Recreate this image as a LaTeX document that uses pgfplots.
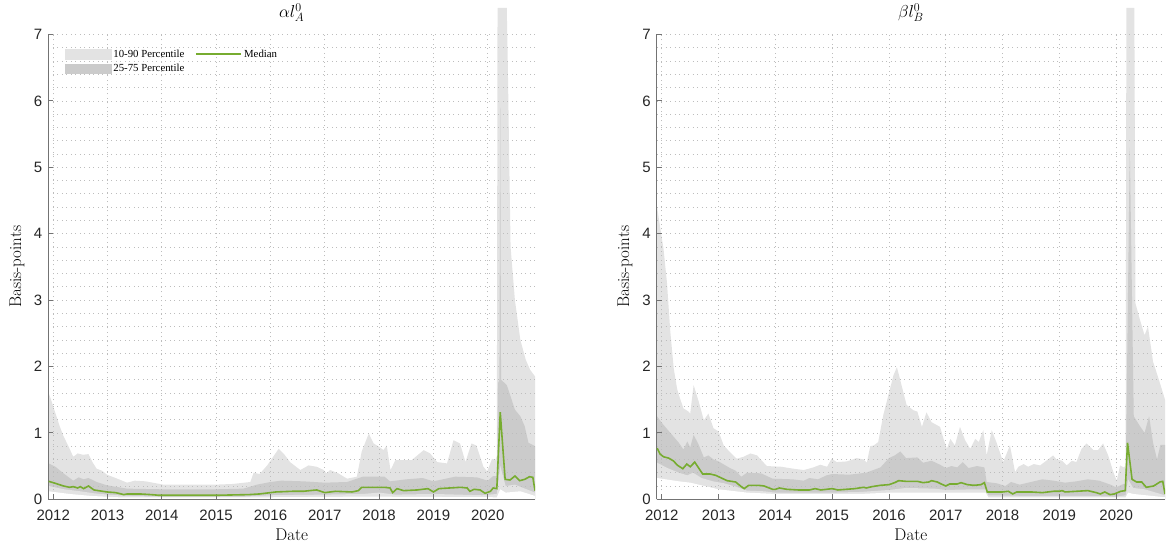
\documentclass[border=0pt]{standalone}
\usepackage{pgfplots}
\pgfplotsset{compat=1.18}
\usepackage{fontspec}
\newfontfamily\arialf{Liberation Sans}
\newfontfamily\tnrf{Liberation Serif}
\definecolor{medgreen}{rgb}{0.466,0.674,0.188}
\definecolor{gridc}{gray}{0.74}
\definecolor{axc}{gray}{0.45}
\definecolor{lightband}{gray}{0.89}
\definecolor{darkband}{gray}{0.795}

% ---------- data: plot A ----------
\pgfplotstableread{
t p
2011.917 1.60
2011.96 1.50
2012.04 1.30
2012.12 1.10
2012.19 0.95
2012.28 0.80
2012.37 0.64
2012.45 0.69
2012.55 0.67
2012.65 0.68
2012.73 0.55
2012.80 0.46
2012.90 0.43
2012.99 0.37
2013.15 0.32
2013.36 0.25
2013.50 0.28
2013.70 0.27
2014.03 0.22
2014.50 0.22
2014.98 0.22
2015.30 0.23
2015.63 0.26
2015.69 0.40
2015.80 0.38
2015.94 0.51
2016.05 0.64
2016.15 0.76
2016.25 0.68
2016.36 0.56
2016.55 0.44
2016.70 0.51
2016.85 0.49
2016.98 0.44
2017.03 0.39
2017.10 0.44
2017.25 0.39
2017.41 0.31
2017.59 0.34
2017.68 0.72
2017.81 0.99
2017.90 0.84
2018.00 0.79
2018.08 0.74
2018.14 0.81
2018.21 0.44
2018.30 0.59
2018.60 0.59
2018.82 0.74
2018.94 0.69
2019.07 0.56
2019.25 0.54
2019.37 0.89
2019.49 0.84
2019.59 0.56
2019.70 0.84
2019.79 0.81
2019.92 0.49
2019.99 0.42
2020.08 0.61
2020.14 0.59
2020.167 0.65
2020.18 7.4
2020.35 7.4
2020.37 6.5
2020.42 3.80
2020.50 3.00
2020.60 2.40
2020.70 2.10
2020.78 1.95
2020.87 1.85
}\Aninety
\pgfplotstableread{
t p
2011.917 0.54
2012.04 0.49
2012.19 0.39
2012.37 0.28
2012.47 0.33
2012.56 0.30
2012.65 0.32
2012.80 0.26
2012.99 0.21
2013.36 0.16
2014.00 0.15
2015.00 0.15
2015.50 0.16
2015.75 0.22
2016.00 0.26
2016.20 0.28
2016.60 0.27
2017.00 0.25
2017.41 0.26
2017.70 0.34
2018.10 0.34
2018.20 0.27
2018.50 0.30
2018.80 0.32
2019.00 0.27
2019.40 0.34
2019.80 0.33
2020.00 0.28
2020.10 0.35
2020.167 0.35
2020.19 1.75
2020.215 1.80
2020.23 5.90
2020.245 1.80
2020.35 1.72
2020.42 1.55
2020.50 1.35
2020.60 1.25
2020.68 1.10
2020.75 0.85
2020.87 0.80
}\Aseventyfive
\pgfplotstableread{
t p
2011.917 0.27
2012.04 0.24
2012.19 0.20
2012.30 0.18
2012.37 0.19
2012.45 0.17
2012.50 0.19
2012.56 0.16
2012.65 0.20
2012.75 0.14
2012.99 0.11
2013.15 0.10
2013.30 0.07
2013.36 0.08
2013.60 0.08
2013.80 0.07
2013.95 0.06
2014.30 0.06
2015.00 0.06
2015.60 0.07
2015.80 0.08
2016.10 0.11
2016.40 0.12
2016.60 0.12
2016.85 0.14
2017.00 0.10
2017.20 0.12
2017.50 0.11
2017.62 0.13
2017.68 0.18
2017.90 0.18
2018.10 0.18
2018.20 0.17
2018.25 0.10
2018.33 0.16
2018.45 0.13
2018.70 0.14
2018.90 0.16
2019.00 0.11
2019.10 0.16
2019.50 0.18
2019.62 0.17
2019.67 0.12
2019.75 0.15
2019.86 0.14
2019.95 0.09
2020.05 0.12
2020.10 0.17
2020.167 0.16
2020.23 1.31
2020.32 0.30
2020.41 0.29
2020.50 0.35
2020.59 0.28
2020.68 0.30
2020.77 0.34
2020.83 0.33
2020.87 0.13
}\Afifty
\pgfplotstableread{
t p
2011.917 0.20
2012.20 0.15
2012.50 0.12
2012.75 0.09
2013.00 0.07
2013.40 0.05
2014.00 0.04
2015.50 0.04
2016.00 0.06
2017.00 0.07
2017.70 0.08
2018.00 0.10
2018.30 0.07
2019.00 0.08
2019.90 0.06
2020.167 0.08
2020.23 0.50
2020.33 0.20
2020.50 0.22
2020.87 0.10
}\Atwentyfive
\pgfplotstableread{
t p
2011.917 0.12
2012.30 0.08
2012.70 0.05
2013.20 0.03
2016.00 0.03
2017.70 0.04
2020.167 0.03
2020.23 0.15
2020.33 0.10
2020.60 0.12
2020.87 0.05
}\Aten

% ---------- data: plot B ----------
\pgfplotstableread{
t p
2011.917 4.40
2011.97 4.10
2012.03 3.77
2012.09 3.27
2012.15 2.52
2012.21 1.97
2012.27 1.66
2012.32 1.52
2012.38 1.37
2012.47 1.32
2012.50 1.29
2012.56 1.72
2012.65 1.47
2012.74 1.19
2012.82 1.29
2012.91 1.07
2013.00 1.02
2013.09 0.81
2013.20 0.71
2013.32 0.61
2013.44 0.64
2013.56 0.69
2013.68 0.66
2013.74 0.60
2013.85 0.50
2014.10 0.49
2014.32 0.46
2014.50 0.44
2014.67 0.48
2014.79 0.52
2014.91 0.49
2014.99 0.61
2015.08 0.56
2015.26 0.57
2015.43 0.62
2015.55 0.60
2015.61 0.55
2015.67 0.80
2015.73 0.81
2015.81 0.86
2015.90 1.27
2015.99 1.57
2016.08 1.87
2016.14 1.99
2016.25 1.62
2016.31 1.42
2016.43 1.34
2016.50 1.32
2016.58 1.09
2016.66 1.31
2016.75 1.16
2016.90 1.09
2016.96 0.91
2017.02 0.76
2017.08 0.91
2017.16 0.81
2017.25 1.09
2017.34 0.89
2017.43 0.76
2017.52 0.91
2017.58 0.86
2017.66 1.04
2017.72 0.66
2017.81 1.04
2017.90 0.84
2018.01 0.56
2018.13 0.81
2018.22 0.41
2018.28 0.49
2018.37 0.53
2018.45 0.49
2018.55 0.53
2018.66 0.51
2018.77 0.58
2018.89 0.66
2018.95 0.60
2019.05 0.58
2019.13 0.51
2019.22 0.58
2019.30 0.56
2019.39 0.76
2019.48 0.84
2019.60 0.74
2019.68 0.74
2019.77 0.84
2019.86 0.66
2019.95 0.41
2020.01 0.28
2020.07 0.51
2020.13 0.48
2020.167 0.50
2020.18 7.4
2020.32 7.4
2020.34 2.95
2020.42 2.70
2020.50 2.47
2020.56 2.60
2020.65 2.07
2020.70 1.94
2020.80 1.67
2020.86 1.50
}\Bninety
\pgfplotstableread{
t p
2011.917 1.25
2012.00 1.15
2012.10 1.05
2012.20 0.95
2012.30 0.85
2012.38 0.75
2012.45 0.87
2012.50 0.78
2012.56 0.97
2012.65 0.82
2012.74 0.63
2012.82 0.66
2012.91 0.60
2013.00 0.57
2013.10 0.52
2013.20 0.47
2013.30 0.43
2013.40 0.34
2013.50 0.40
2013.75 0.39
2013.95 0.31
2014.30 0.30
2014.50 0.28
2014.60 0.32
2014.75 0.30
2014.90 0.36
2015.00 0.38
2015.30 0.37
2015.60 0.40
2015.85 0.48
2016.00 0.62
2016.10 0.66
2016.20 0.72
2016.30 0.62
2016.50 0.63
2016.60 0.55
2016.75 0.58
2016.90 0.52
2017.00 0.47
2017.10 0.50
2017.20 0.48
2017.30 0.56
2017.40 0.47
2017.55 0.50
2017.68 0.48
2017.72 0.26
2017.90 0.24
2018.05 0.20
2018.15 0.26
2018.30 0.22
2018.50 0.26
2018.70 0.30
2018.90 0.28
2019.10 0.25
2019.30 0.27
2019.50 0.30
2019.70 0.28
2019.90 0.22
2020.00 0.18
2020.10 0.22
2020.167 0.24
2020.24 5.30
2020.31 1.25
2020.42 1.10
2020.50 1.00
2020.58 1.25
2020.65 0.85
2020.72 0.60
2020.78 0.82
2020.86 0.82
}\Bseventyfive
\pgfplotstableread{
t p
2011.917 0.77
2011.97 0.68
2012.03 0.64
2012.12 0.62
2012.20 0.58
2012.28 0.51
2012.37 0.46
2012.44 0.53
2012.50 0.49
2012.58 0.56
2012.65 0.47
2012.72 0.38
2012.85 0.38
2012.95 0.36
2013.05 0.32
2013.15 0.28
2013.30 0.26
2013.40 0.19
2013.45 0.16
2013.53 0.21
2013.70 0.21
2013.80 0.20
2013.95 0.15
2014.00 0.15
2014.07 0.17
2014.20 0.15
2014.40 0.14
2014.60 0.14
2014.70 0.16
2014.80 0.14
2014.90 0.15
2015.00 0.16
2015.10 0.14
2015.40 0.16
2015.55 0.18
2015.60 0.17
2015.70 0.19
2015.85 0.21
2016.00 0.22
2016.10 0.25
2016.17 0.28
2016.30 0.27
2016.50 0.27
2016.60 0.25
2016.70 0.26
2016.75 0.28
2016.85 0.26
2016.92 0.23
2017.00 0.20
2017.07 0.23
2017.20 0.23
2017.27 0.25
2017.38 0.22
2017.50 0.21
2017.62 0.22
2017.68 0.25
2017.73 0.11
2018.00 0.11
2018.10 0.12
2018.18 0.08
2018.25 0.11
2018.50 0.11
2018.70 0.10
2018.90 0.12
2019.00 0.12
2019.05 0.13
2019.10 0.11
2019.30 0.12
2019.50 0.13
2019.65 0.10
2019.72 0.08
2019.80 0.11
2019.89 0.07
2019.97 0.08
2020.08 0.12
2020.16 0.13
2020.20 0.85
2020.28 0.30
2020.36 0.26
2020.45 0.26
2020.53 0.18
2020.66 0.20
2020.77 0.26
2020.82 0.27
2020.86 0.08
}\Bfifty
\pgfplotstableread{
t p
2011.917 0.55
2012.10 0.47
2012.30 0.40
2012.45 0.36
2012.55 0.40
2012.70 0.32
2012.90 0.27
2013.10 0.24
2013.30 0.19
2013.50 0.13
2013.80 0.12
2014.00 0.10
2015.00 0.10
2015.50 0.11
2016.00 0.14
2016.30 0.17
2016.80 0.16
2017.00 0.14
2017.50 0.15
2017.70 0.15
2017.75 0.06
2018.50 0.05
2019.50 0.05
2020.00 0.04
2020.167 0.06
2020.21 0.30
2020.30 0.17
2020.50 0.15
2020.86 0.06
}\Btwentyfive
\pgfplotstableread{
t p
2011.917 0.32
2012.30 0.27
2012.50 0.25
2012.75 0.20
2013.00 0.15
2013.50 0.10
2014.00 0.08
2015.50 0.08
2016.00 0.10
2017.70 0.10
2017.75 0.03
2020.167 0.03
2020.21 0.10
2020.30 0.08
2020.86 0.03
}\Bten

\pgfplotsset{
  panel/.style={
    set layers,
    scale only axis, height=464.8pt,
    ymin=0, ymax=7, xmin=2011.91,
    axis x line*=bottom, axis y line*=left,
    axis line style={draw=axc, line width=0.9pt, -},
    major tick style={draw=axc, line width=0.8pt},
    major tick length=5pt, tick align=inside,
    xtick={2012,2013,2014,2015,2016,2017,2018,2019,2020},
    xticklabels={2012,2013,2014,2015,2016,2017,2018,2019,2020},
    ytick={0,1,2,3,4,5,6,7},
    minor y tick num=4,
    minor tick style={draw=none},
    xmajorgrids, ymajorgrids, yminorgrids,
    major grid style={draw=gridc, line width=0.7pt, dash pattern=on 0.9pt off 3.6pt},
    minor grid style={draw=gridc, line width=0.7pt, dash pattern=on 0.9pt off 3.6pt},
    /pgf/number format/assume math mode=true,
    ticklabel style={font=\arialf\fontsize{15}{17}\selectfont, text=black!85},
    xticklabel style={yshift=-7pt},
    yticklabel style={xshift=-2.5pt},
    xlabel={Date},
    xlabel style={font=\fontsize{17}{19}\selectfont, at={(axis description cs:0.5,0)}, anchor=center, yshift=-35.7pt},
    ylabel={Basis-points},
    ylabel style={font=\fontsize{17}{19}\selectfont, anchor=center},
    title style={font=\fontsize{17}{19}\selectfont, at={(axis description cs:0.5,1)}, anchor=center, yshift=16pt},
  },
  bandL/.style={draw=none, fill=lightband, forget plot, on layer=axis background},
  bandD/.style={draw=none, fill=darkband, forget plot, on layer=axis background},
  bandW/.style={draw=none, fill=white, forget plot, on layer=axis background},
}

\begin{document}
\begin{tikzpicture}
\path (0pt,0pt) (1171pt,543pt);

\begin{axis}[panel, at={(48.3pt,45.7pt)}, anchor=south west,
  width=486.7pt, xmax=2020.87,
  title={$\alpha l^0_A$},
  ylabel style={at={(axis description cs:-0.0643,0.5)}},
  legend columns=2,
  legend style={at={(axis description cs:0.034,0.972)}, anchor=north west,
    draw=none, fill=none, inner sep=0pt,
    font=\tnrf\fontsize{10.8}{12}\selectfont,
    /tikz/every even column/.append style={column sep=9pt},
    row sep=1.5pt},
  legend cell align=left]
\addplot[bandL] table[x=t,y=p] {\Aninety} \closedcycle;
\addplot[bandD] table[x=t,y=p] {\Aseventyfive} \closedcycle;
\addplot[bandL] table[x=t,y=p] {\Atwentyfive} \closedcycle;
\addplot[bandW] table[x=t,y=p] {\Aten} \closedcycle;
\addlegendimage{legend image code/.code={\fill[lightband] (0pt,-4.6pt) rectangle (46pt,4.6pt);}}
\addlegendentry{10-90 Percentile}
\addplot[medgreen, line width=1.6pt, legend image code/.code={\draw[medgreen, line width=1.6pt] (0pt,0pt) -- (45pt,0pt);}] table[x=t,y=p] {\Afifty};
\addlegendentry{Median}
\addlegendimage{legend image code/.code={\fill[darkband] (0pt,-4.6pt) rectangle (46pt,4.6pt);}}
\addlegendentry{25-75 Percentile}
\end{axis}

\begin{axis}[panel, at={(656.7pt,45.7pt)}, anchor=south west,
  width=508.3pt, xmax=2020.86,
  title={$\beta l^0_B$},
  ylabel style={at={(axis description cs:-0.0624,0.5)}}]
\addplot[bandL] table[x=t,y=p] {\Bninety} \closedcycle;
\addplot[bandD] table[x=t,y=p] {\Bseventyfive} \closedcycle;
\addplot[bandL] table[x=t,y=p] {\Btwentyfive} \closedcycle;
\addplot[bandW] table[x=t,y=p] {\Bten} \closedcycle;
\addplot[medgreen, line width=1.6pt] table[x=t,y=p] {\Bfifty};
\end{axis}
\end{tikzpicture}
\end{document}
